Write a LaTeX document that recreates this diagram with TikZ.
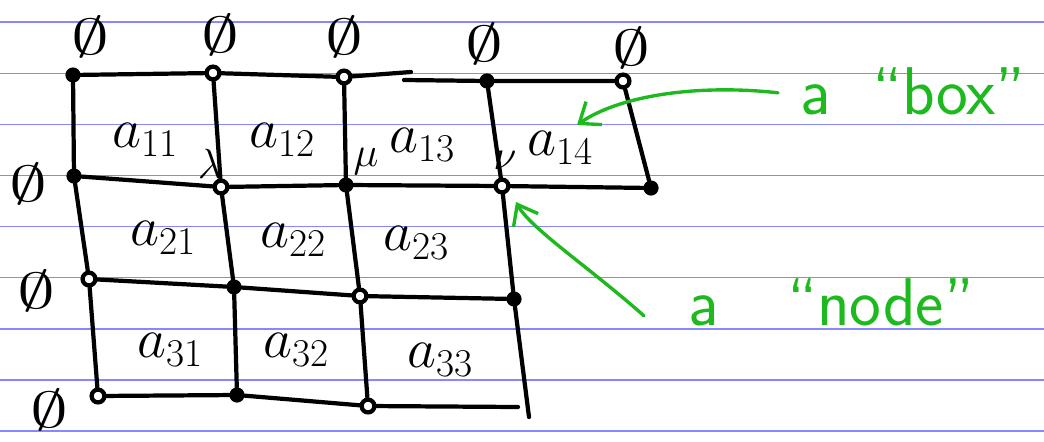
\RequirePackage{fix-cm}
\documentclass[tikz,border=0pt]{standalone}
\usepackage{amsmath}
\usetikzlibrary{calc}
\usetikzlibrary{arrows.meta}
\definecolor{ruleblue}{RGB}{135,135,255}
\definecolor{pengreen}{RGB}{30,185,30}

\begin{document}
\begin{tikzpicture}[x=0.025cm, y=-0.025cm,
  edge/.style={black, line width=3pt, line cap=round},
  dotnode/.style={circle, fill=black, inner sep=0, minimum size=0.38cm},
  ringnode/.style={circle, draw=black, fill=white, line width=3pt, inner sep=0, minimum size=0.32cm},
  entry/.style={font=\fontsize{40}{44}\selectfont, inner sep=0},
  nullset/.style={font=\fontsize{36}{40}\selectfont, inner sep=0},
  greek/.style={font=\fontsize{30}{32}\selectfont, inner sep=0},
  note/.style={pengreen, font=\fontsize{48}{52}\selectfont\sffamily, inner sep=0, anchor=base west},
  pointer/.style={pengreen, line width=2.4pt, line cap=round, -{Straight Barb[length=0.45cm, width=0.7cm]}}]
\useasboundingbox (0,0) rectangle (1044,441);
% ruled paper
\foreach \k in {0,...,8}
  \draw[ruleblue, line width=1.1pt] (0,{22.2+51.1*\k}) -- (1044,{22.2+51.1*\k});
% nodes of the grid
\foreach \name/\x/\y in {n00/73/75, n03/487/81, n10/74/176, n12/346/185, n14/651/188, n21/234/287, n23/514/299, n31/237/395}
  \node[dotnode] (\name) at (\x,\y) {};
\foreach \name/\x/\y in {n01/213/73, n02/344/77, n04/623/81, n11/221/187, n13/502/186, n20/89/279, n22/360/296, n30/98/396, n32/368/406}
  \node[ringnode] (\name) at (\x,\y) {};
\coordinate (topbreak) at (411,72);
\coordinate (topresume) at (404,80);
\coordinate (bottomend) at (518,407);
\coordinate (rightend) at (529,417);
% edges
\draw[edge] (n00) -- (n01) -- (n02) -- (topbreak);
\draw[edge] (topresume) -- (n03) -- (n04);
\draw[edge] (n10) -- (n11) -- (n12) -- (n13) -- (n14);
\draw[edge] (n20) -- (n21) -- (n22) -- (n23);
\draw[edge] (n30) -- (n31) -- (n32) -- (bottomend);
\draw[edge] (n00) -- (n10) -- (n20) -- (n30);
\draw[edge] (n01) -- (n11) -- (n21) -- (n31);
\draw[edge] (n02) -- (n12) -- (n22) -- (n32);
\draw[edge] (n03) -- (n13) -- (n23) -- (rightend);
\draw[edge] (n04) -- (n14);
% entries
\foreach \i/\j/\x/\y in {1/1/145/140, 1/2/282/140, 1/3/422/145, 1/4/560/148, 2/1/163/238, 2/2/293/240, 2/3/416/243, 3/1/170/350, 3/2/296/350, 3/3/440/360}
  \node[entry] (a\i\j) at (\x,\y) {$a_{\i\j}$};
\foreach \name/\x/\y in {z0/90/37, z1/220/35, z2/344/37, z3/484/44, z4/631/48, z5/28/184, z6/36/291, z7/49/410}
  \node[nullset] (\name) at (\x,\y) {\scalebox{1.5}[1]{$\emptyset$}};
\node[greek] (lam) at (210,164) {$\lambda$};
\node[greek] (mu) at (366,162) {$\mu$};
\node[greek] (nu) at (505,160) {$\nu$};
% annotations
\node[note] (boxnote) at (800,114) {a\hspace{0.3em} “box”};
\node[note] (nodenote) at (688,325) {a\hspace{0.7em} “node”};
\coordinate (boxtail) at ($(boxnote.west)+(-22,2)$);
\coordinate (nodetail) at ($(nodenote.west)+(-44,14)$);
\draw[pointer] (boxtail) .. controls (700,84) and (620,95) .. ($(a14)+(17,-23)$);
\draw[pointer] (nodetail) .. controls (590,268) and (530,228) .. ($(n13)+(14,16)$);
\end{tikzpicture}
\end{document}
